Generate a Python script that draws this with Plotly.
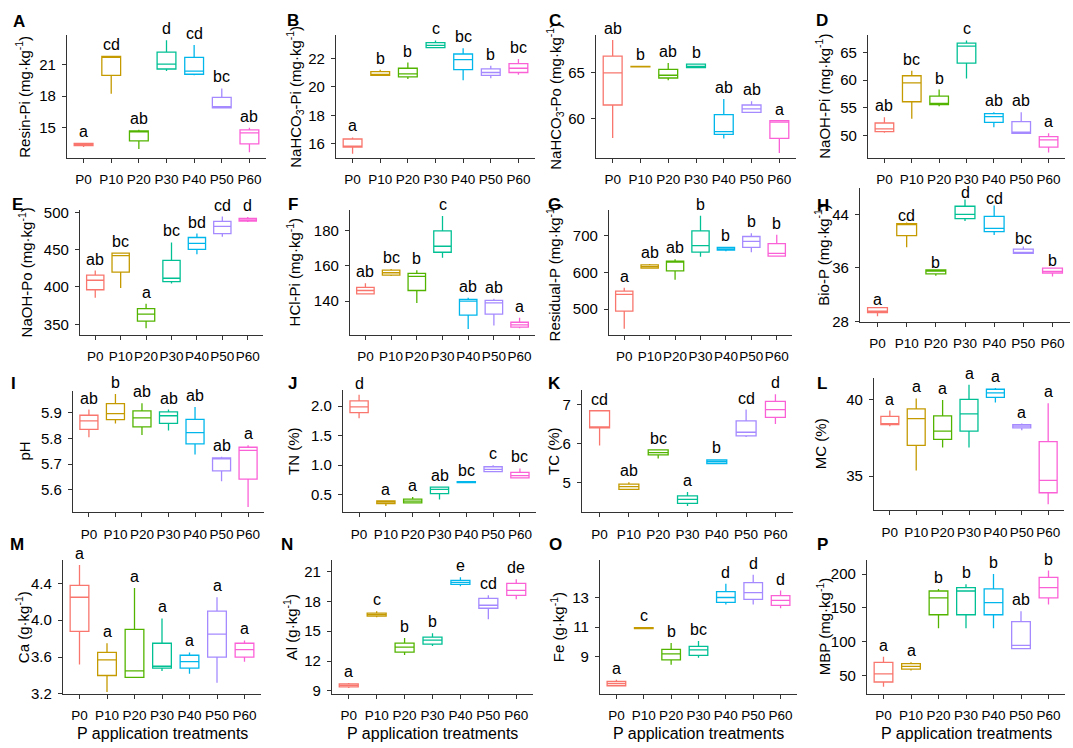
import plotly.graph_objects as go

W, H = 1073, 748
FONT = "Arial, 'Liberation Sans', sans-serif"

treatments = ["P0", "P10", "P20", "P30", "P40", "P50", "P60"]
colors = ["#F8766D", "#C49A00", "#53B400", "#00C094", "#00B6EB", "#A58AFF", "#FB61D7"]

# each entry: (lower whisker, Q1, median, Q3, upper whisker) per treatment
resin_pi = [(13.15, 13.3, 13.4, 13.5, 13.5), (18.25, 20.0, 21.75, 21.8, 21.8), (12.97, 13.75, 14.6, 14.7, 14.8),
            (20.4, 20.6, 21.07, 22.2, 23.35), (20.0, 20.1, 20.4, 21.7, 22.9), (16.9, 16.9, 17.0, 17.9, 18.75),
            (12.65, 13.45, 14.5, 14.8, 15.0)]
resin_pi_letters = ["a", "cd", "ab", "d", "cd", "bc", "ab"]

nahco3_pi = [(15.3, 15.77, 15.8, 16.34, 16.45), (20.8, 20.8, 20.85, 21.06, 21.2), (20.55, 20.7, 20.9, 21.3, 21.7),
             (22.7, 22.75, 22.9, 23.1, 23.25), (20.45, 21.2, 21.9, 22.3, 22.7), (20.6, 20.8, 21.0, 21.25, 21.47),
             (20.85, 21.0, 21.3, 21.63, 21.95)]
nahco3_pi_letters = ["a", "b", "b", "c", "bc", "b", "bc"]

nahco3_po = [(57.9, 61.5, 65.0, 66.85, 68.6), (65.65, 65.68, 65.7, 65.72, 65.75), (64.2, 64.45, 64.75, 65.4, 66.1),
             (65.55, 65.6, 65.7, 65.96, 65.96), (57.85, 58.3, 58.6, 60.46, 62.15), (60.7, 60.7, 61.07, 61.5, 61.9),
             (56.25, 57.85, 59.64, 59.8, 59.8)]
nahco3_po_letters = ["ab", "b", "ab", "b", "ab", "ab", "a"]

naoh_pi = [(50.5, 50.7, 51.2, 52.25, 53.3), (53.0, 56.1, 59.5, 60.8, 61.7), (55.3, 55.6, 55.7, 57.1, 58.3),
           (60.3, 63.1, 66.15, 66.7, 67.2), (51.5, 52.35, 53.4, 53.95, 54.2), (50.4, 50.4, 50.5, 52.5, 54.2),
           (46.9, 47.9, 49.2, 49.8, 50.4)]
naoh_pi_letters = ["ab", "bc", "b", "c", "ab", "ab", "a"]

naoh_po = [(385.4, 396.3, 409, 416, 422), (398.5, 420, 442, 445.3, 446), (344.7, 354.3, 363.5, 371, 377.6),
           (404.6, 407.2, 411.7, 435.7, 459.7), (444, 450.5, 458.4, 466.3, 471.5), (467.2, 471.5, 481.2, 487.8, 494.4),
           (486.9, 488.2, 490, 492, 493.8)]
naoh_po_letters = ["ab", "bc", "a", "bc", "bd", "cd", "d"]

hcl_pi = [(143.8, 144.1, 146, 147.8, 150.1), (154.2, 154.8, 156.1, 157.6, 158.2), (138.9, 146, 154, 155.7, 157.6),
          (164.7, 167.8, 171.2, 180, 188.4), (124, 132, 140, 141, 141.9), (126, 132.5, 138.9, 140.4, 141.3),
          (124.5, 125.1, 126.4, 127.9, 130.5)]
hcl_pi_letters = ["ab", "bc", "b", "c", "ab", "ab", "a"]

residual_p = [(446, 494.4, 540, 548.8, 558), (611, 611.5, 616, 620.4, 623), (580, 604.3, 628.4, 631, 635.6),
              (642.7, 655.2, 673.2, 713.4, 754.4), (658, 660.6, 664, 668.6, 668.6), (655, 668.6, 684.7, 698, 707),
              (642.7, 644.5, 651.7, 678.5, 702.7)]
residual_p_letters = ["a", "ab", "ab", "b", "b", "b", "b"]

bio_p = [(28.74, 29.3, 29.5, 30.05, 30.1), (39.07, 40.8, 42.5, 42.6, 42.77), (34.8, 35.1, 35.5, 35.7, 35.7),
         (42.98, 43.36, 44.0, 45.2, 46.2), (40.9, 41.4, 41.9, 43.7, 45.3), (38.1, 38.15, 38.3, 38.8, 39.2),
         (34.7, 35.2, 35.45, 35.96, 36.0)]
bio_p_letters = ["a", "cd", "b", "d", "cd", "bc", "b"]

ph = [(5.805, 5.836, 5.869, 5.891, 5.913), (5.859, 5.874, 5.897, 5.936, 5.974), (5.814, 5.846, 5.881, 5.908, 5.938),
      (5.831, 5.859, 5.889, 5.904, 5.913), (5.738, 5.779, 5.823, 5.875, 5.923), (5.633, 5.674, 5.722, 5.725, 5.729),
      (5.533, 5.642, 5.754, 5.766, 5.774)]
ph_letters = ["ab", "b", "ab", "ab", "ab", "ab", "a"]

tn = [(1.795, 1.89, 1.99, 2.09, 2.195), (0.307, 0.35, 0.38, 0.395, 0.40), (0.36, 0.362, 0.39, 0.423, 0.462),
      (0.417, 0.517, 0.59, 0.628, 0.63), (0.70, 0.705, 0.712, 0.72, 0.72), (0.885, 0.89, 0.93, 0.973, 1.0),
      (0.78, 0.783, 0.823, 0.878, 0.945)]
tn_letters = ["d", "a", "a", "ab", "bc", "c", "bc"]

tc = [(5.95, 6.4, 6.4, 6.84, 6.84), (4.81, 4.83, 4.9, 4.96, 5.01), (5.62, 5.71, 5.77, 5.84, 5.84),
      (4.40, 4.47, 4.57, 4.66, 4.76), (5.48, 5.49, 5.54, 5.58, 5.60), (6.17, 6.2, 6.29, 6.58, 6.87),
      (6.5, 6.67, 6.87, 7.08, 7.26)]
tc_letters = ["cd", "ab", "bc", "a", "b", "cd", "d"]

mc = [(38.25, 38.35, 38.4, 38.89, 39.27), (35.36, 37.0, 38.74, 39.38, 40.06), (36.86, 37.39, 37.93, 38.93, 39.96),
      (36.86, 37.93, 39.06, 40.0, 40.96), (39.79, 40.13, 40.43, 40.66, 40.75), (37.99, 38.14, 38.25, 38.35, 38.42),
      (33.16, 33.91, 34.72, 37.24, 39.74)]
mc_letters = ["a", "a", "a", "a", "a", "a", "a"]

ca = [(3.52, 3.88, 4.25, 4.38, 4.6), (3.22, 3.4, 3.57, 3.65, 3.75), (3.38, 3.38, 3.45, 3.9, 4.35),
      (3.45, 3.48, 3.5, 3.75, 4.02), (3.42, 3.48, 3.55, 3.62, 3.65), (3.32, 3.6, 3.85, 4.1, 4.25),
      (3.55, 3.6, 3.68, 3.75, 3.78)]
ca_letters = ["a", "a", "a", "a", "a", "a", "a"]

al = [(9.3, 9.4, 9.55, 9.7, 9.8), (16.4, 16.5, 16.65, 16.8, 17.0), (12.6, 12.9, 13.4, 13.8, 14.3),
      (13.5, 13.7, 14.1, 14.4, 14.8), (19.5, 19.7, 19.9, 20.1, 20.4), (16.2, 17.3, 17.6, 18.3, 18.6),
      (18.2, 18.6, 19.1, 19.8, 20.2)]
al_letters = ["a", "c", "b", "b", "e", "cd", "de"]

fe = [(7.0, 7.05, 7.2, 7.35, 7.45), (10.88, 10.9, 10.93, 10.96, 10.98), (8.47, 8.8, 9.2, 9.5, 9.93),
      (8.93, 9.1, 9.47, 9.7, 10.07), (12.53, 12.67, 13.0, 13.4, 13.93), (12.53, 12.87, 13.33, 14.0, 14.53),
      (12.27, 12.47, 12.8, 13.13, 13.47)]
fe_letters = ["a", "c", "b", "bc", "d", "d", "d"]

mbp = [(34, 41, 53, 70, 78), (58, 60, 64, 68, 70), (120, 140, 165, 175, 178), (120, 140, 175, 180, 185),
       (120, 140, 158, 178, 200), (90, 90, 95, 130, 145), (155, 165, 180, 195, 205)]
mbp_letters = ["a", "a", "b", "b", "b", "ab", "b"]

SUP = "<sup>-1</sup>"
panels = [
    # letter, title, stats, letters, yrange, tickvals, tickformat, (left, right, top, bottom) px, title x px, letter yshift
    ("A", "Resin-Pi (mg·kg" + SUP + ")", resin_pi, resin_pi_letters, [12.1, 23.8], [15, 18, 21], "", (67, 266, 30, 155), 23, 1),
    ("B", "NaHCO<sub>3</sub>-Pi (mg·kg" + SUP + ")", nahco3_pi, nahco3_pi_letters, [15.0, 23.6], [16, 18, 20, 22], "", (336, 535, 30, 155), 295, 1),
    ("C", "NaHCO<sub>3</sub>-Po (mg·kg" + SUP + ")", nahco3_po, nahco3_po_letters, [55.7, 69.1], [60, 65], "", (596, 796, 30, 155), 555, 1),
    ("D", "NaOH-Pi (mg·kg" + SUP + ")", naoh_pi, naoh_pi_letters, [45.9, 68.1], [50, 55, 60, 65], "", (868, 1065, 30, 155), 823, 1),
    ("E", "NaOH-Po (mg·kg" + SUP + ")", naoh_po, naoh_po_letters, [336, 503], [350, 400, 450, 500], "", (80, 263, 208, 335), 25, 1),
    ("F", "HCl-Pi (mg·kg" + SUP + ")", hcl_pi, hcl_pi_letters, [120.8, 191.8], [120, 140, 160, 180], "", (350, 535, 208, 335), 293, 1),
    ("G", "Residual-P (mg·kg" + SUP + ")", residual_p, residual_p_letters, [430, 770], [500, 600, 700], "", (609, 792, 208, 335), 553, 1),
    ("H", "Bio-P (mg·kg" + SUP + ")", bio_p, bio_p_letters, [27.9, 48], [28, 36, 44], "", (860, 1070, 185, 322), 822, -3),
    ("I", "pH", ph, ph_letters, [5.512, 5.987], [5.6, 5.7, 5.8, 5.9], ".1f", (73, 264, 392, 516), 25, 1),
    ("J", "TN (%)", tn, tn_letters, [0.2, 2.28], [0.5, 1.0, 1.5, 2.0], ".1f", (343, 536, 391, 516), 293, 1),
    ("K", "TC (%)", tc, tc_letters, [4.24, 7.38], [5, 6, 7], "", (582, 793, 391, 516), 553, 1),
    ("L", "MC (%)", mc, mc_letters, [32.76, 41.4], [35, 40], "", (874, 1064, 379, 514), 820, 1),
    ("M", "Ca (g·kg" + SUP + ")", ca, ca_letters, [3.2, 4.65], [3.2, 3.6, 4.0, 4.4], ".1f", (63, 261, 565, 701), 22, 1),
    ("N", "Al (g·kg" + SUP + ")", al, al_letters, [8.7, 22.1], [9, 12, 15, 18, 21], "", (332, 533, 565, 701), 290, 1),
    ("O", "Fe (g·kg" + SUP + ")", fe, fe_letters, [6.5, 15.5], [9, 11, 13], "", (600, 797, 565, 701), 557, 1),
    ("P", "MBP (mg·kg" + SUP + ")", mbp, mbp_letters, [23.5, 220], [50, 100, 150, 200], "", (867, 1065, 565, 701), 823, 1),
]

panel_letter_pos = {"A": (19, 16), "B": (293, 15), "C": (555, 15), "D": (822, 15),
                    "E": (17, 202), "F": (293, 202), "G": (554, 202), "H": (823, 203),
                    "I": (13, 385), "J": (292, 385), "K": (554, 385), "L": (822, 385),
                    "M": (17, 549), "N": (287, 549), "O": (555, 549), "P": (822, 549)}

fig = go.Figure()
annotations = []
layout = {}
AXC = "#333333"

for k, (plet, title, stats, letters, yr, tv, tf, geom, tx, lshift) in enumerate(panels, start=1):
    xa = "x" if k == 1 else f"x{k}"
    ya = "y" if k == 1 else f"y{k}"
    left, right, top, bottom = geom
    for i, cat in enumerate(treatments):
        lo, q1, med, q3, hi = stats[i]
        fig.add_trace(go.Box(
            x=[cat], q1=[q1], median=[med], q3=[q3], lowerfence=[lo], upperfence=[hi],
            xaxis=xa, yaxis=ya, width=0.68, whiskerwidth=0,
            line=dict(color=colors[i], width=1.3), fillcolor="rgba(255,255,255,0)",
            boxpoints=False, showlegend=False, hoverinfo="skip"))
        annotations.append(dict(x=cat, y=hi, xref=xa, yref=ya, text=letters[i], showarrow=False,
                                yanchor="bottom", yshift=lshift, font=dict(size=16, color="black", family=FONT)))
    layout["xaxis" if k == 1 else f"xaxis{k}"] = dict(
        domain=[left / W, right / W], anchor=ya, type="category",
        categoryorder="array", categoryarray=treatments, range=[-0.6, 6.6],
        showline=True, linecolor=AXC, linewidth=1.2, ticks="outside", ticklen=4,
        tickcolor=AXC, tickwidth=1.2, showgrid=False, zeroline=False, tickangle=0,
        ticklabelstandoff=5,
        tickfont=dict(size=13.5, color="black", family=FONT), fixedrange=True)
    layout["yaxis" if k == 1 else f"yaxis{k}"] = dict(
        domain=[1 - bottom / H, 1 - top / H], anchor=xa, range=yr, tickvals=tv,
        tickformat=tf, showline=True, linecolor=AXC, linewidth=1.2, ticks="outside",
        ticklen=4, tickcolor=AXC, tickwidth=1.2, showgrid=False, zeroline=False,
        ticklabelstandoff=3,
        tickfont=dict(size=15, color="black", family=FONT), fixedrange=True)
    # y-axis title
    annotations.append(dict(x=tx / W, y=1 - (top + bottom) / 2 / H, xref="paper", yref="paper",
                            text=title, textangle=-90, showarrow=False, xanchor="center",
                            yanchor="middle", font=dict(size=15, color="black", family=FONT)))
    # panel letter
    px, py = panel_letter_pos[plet]
    annotations.append(dict(x=px / W, y=1 - py / H, xref="paper", yref="paper", text="<b>" + plet + "</b>",
                            showarrow=False, xanchor="center", yanchor="middle",
                            font=dict(size=17, color="black", family=FONT)))
    if k >= 13:
        annotations.append(dict(x=(left + right) / 2 / W, y=1 - 741 / H, xref="paper", yref="paper",
                                text="P application treatments", showarrow=False, xanchor="center",
                                yanchor="middle", font=dict(size=16, color="black", family=FONT)))

fig.update_layout(width=W, height=H, margin=dict(l=0, r=0, t=0, b=0),
                  paper_bgcolor="white", plot_bgcolor="white", boxmode="overlay",
                  font=dict(family=FONT, color="black"), annotations=annotations, **layout)

fig.write_html("out.html", config={"displayModeBar": False},
               post_script="document.body.style.margin='0px';")
